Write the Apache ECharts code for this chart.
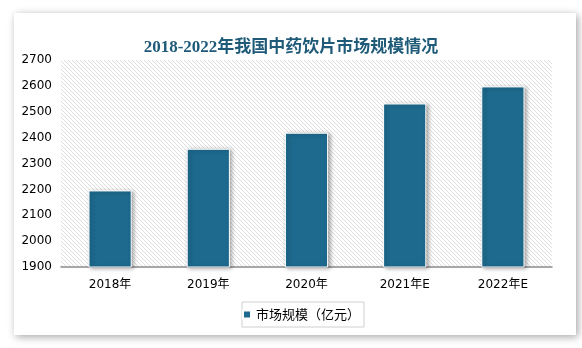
<!DOCTYPE html>
<html><head><meta charset="utf-8">
<script src="https://cdn.jsdelivr.net/npm/echarts@6/dist/echarts.min.js"></script>
<style>html,body{margin:0;padding:0;background:#fff}#c{width:582px;height:348px}</style>
</head><body><div id="c"></div>
<script>
const categories = ['2018年','2019年','2020年','2021年E','2022年E'];
const marketSize = [2196, 2357, 2419, 2532, 2598];
const yTicks = [1900, 2000, 2100, 2200, 2300, 2400, 2500, 2600, 2700];
const titleText = '2018-2022年我国中药饮片市场规模情况';
const seriesName = '市场规模（亿元）';

const tile = document.createElement('canvas');
tile.width = 4; tile.height = 4;
const tc = tile.getContext('2d');
tc.fillStyle = '#ffffff'; tc.fillRect(0,0,4,4);
tc.strokeStyle = '#dedede'; tc.lineWidth = 1;
tc.beginPath();
tc.moveTo(-1,-1); tc.lineTo(5,5);
tc.moveTo(-1,3); tc.lineTo(1,5);
tc.moveTo(3,-1); tc.lineTo(5,1);
tc.stroke();

const chart = echarts.init(document.getElementById('c'), null, {renderer:'canvas'});
chart.setOption({
  animation: false,
  backgroundColor: '#ffffff',
  graphic: [{
    type: 'rect', z: -10, silent: true,
    shape: {x: 14, y: 13, width: 562, height: 322},
    style: {fill: '#ffffff', shadowBlur: 8, shadowColor: 'rgba(0,0,0,0.35)', shadowOffsetX: 2, shadowOffsetY: 2}
  }],
  title: {
    text: titleText, left: 'center', top: 34,
    textStyle: {fontFamily: 'Liberation Serif, "Noto Sans CJK SC"', fontSize: 17, fontWeight: 'bold', color: '#1f5b78'}
  },
  legend: {
    data: [seriesName], bottom: 21, left: 242,
    itemWidth: 8, itemHeight: 8, itemGap: 4, padding: [6, 4, 6, 0],
    borderColor: '#d0d0d0', borderWidth: 1,
    icon: 'rect',
    textStyle: {fontSize: 13, color: '#000', fontFamily: '"Noto Sans CJK SC"'}
  },
  grid: {
    left: 61, right: 30, top: 60, bottom: 81,
    show: true, borderWidth: 0,
    backgroundColor: {image: tile, repeat: 'repeat'}
  },
  xAxis: {
    type: 'category', data: categories,
    axisLine: {lineStyle: {color: '#8c8c8c', width: 1.5}},
    axisTick: {show: false},
    axisLabel: {fontSize: 12, color: '#000', margin: 12, fontFamily: 'DejaVu Sans, "Noto Sans CJK SC"'}
  },
  yAxis: {
    type: 'value', min: yTicks[0], max: yTicks[yTicks.length-1], interval: 100,
    axisLine: {show: false}, axisTick: {show: false},
    splitLine: {show: false},
    axisLabel: {fontSize: 12, color: '#000', margin: 9, fontFamily: 'DejaVu Sans', formatter: v => String(v)}
  },
  series: [{
    name: seriesName, type: 'bar', data: marketSize, barWidth: '44%',
    itemStyle: {color: '#1d6a8e', borderColor: '#ffffff', borderWidth: 1,
      shadowBlur: 4, shadowColor: 'rgba(0,0,0,0.35)', shadowOffsetX: 2, shadowOffsetY: 1}
  }]
});
</script></body></html>
